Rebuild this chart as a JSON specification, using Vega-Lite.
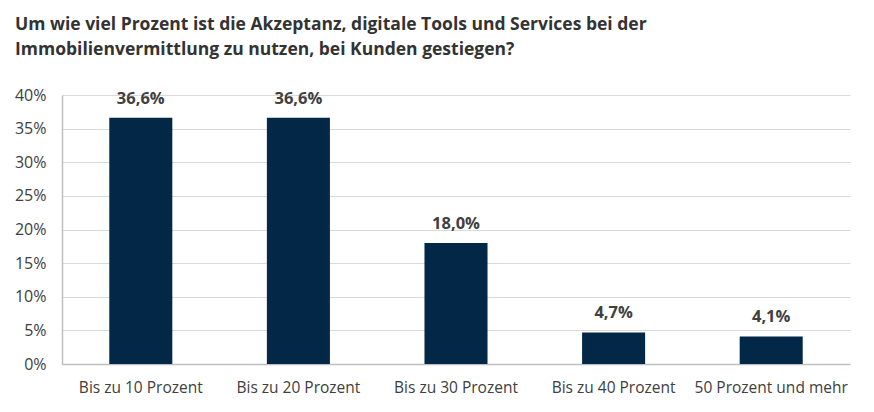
{
  "$schema": "https://vega.github.io/schema/vega-lite/v6.json",
  "width": 788,
  "height": 269,
  "autosize": "none",
  "padding": {"left": 62, "top": 95, "right": 24, "bottom": 48},
  "background": "white",
  "config": {
    "locale": {"number": {"decimal": ",", "thousands": ".", "grouping": [3], "currency": ["", " €"]}},
    "view": {"stroke": null},
    "font": "Open Sans"
  },
  "title": {
    "text": ["Um wie viel Prozent ist die Akzeptanz, digitale Tools und Services bei der", "Immobilienvermittlung zu nutzen, bei Kunden gestiegen?"],
    "anchor": "start",
    "frame": "group",
    "dx": -47,
    "offset": 29,
    "font": "Open Sans",
    "fontSize": 17.5,
    "fontWeight": "bold",
    "color": "#333333",
    "lineHeight": 25
  },
  "data": {
    "values": [
      {"kategorie": "Bis zu 10 Prozent", "anteil": 0.366},
      {"kategorie": "Bis zu 20 Prozent", "anteil": 0.366},
      {"kategorie": "Bis zu 30 Prozent", "anteil": 0.18},
      {"kategorie": "Bis zu 40 Prozent", "anteil": 0.047},
      {"kategorie": "50 Prozent und mehr", "anteil": 0.041}
    ]
  },
  "encoding": {
    "x": {
      "field": "kategorie",
      "type": "nominal",
      "sort": null,
      "scale": {"paddingInner": 0.6, "paddingOuter": 0.3},
      "axis": {
        "title": null,
        "labelAngle": 0,
        "labelFontSize": 15.5,
        "labelColor": "#404040",
        "labelPadding": 16,
        "ticks": false,
        "domainColor": "#bfbfbf",
        "domainWidth": 1.5
      }
    },
    "y": {
      "field": "anteil",
      "type": "quantitative",
      "scale": {"domain": [0, 0.4]},
      "axis": {
        "title": null,
        "format": ".0%",
        "values": [0, 0.05, 0.1, 0.15, 0.2, 0.25, 0.3, 0.35, 0.4],
        "labelFontSize": 16,
        "labelColor": "#404040",
        "labelPadding": 16,
        "ticks": false,
        "domainColor": "#bfbfbf",
        "domainWidth": 1.5,
        "gridColor": "#d9d9d9",
        "gridWidth": 1
      }
    }
  },
  "layer": [
    {"mark": {"type": "bar", "color": "#022747"}},
    {
      "mark": {"type": "text", "baseline": "alphabetic", "dy": -14, "fontSize": 16.5, "fontWeight": "bold", "color": "#404040"},
      "encoding": {"text": {"field": "anteil", "type": "quantitative", "format": ".1%"}}
    }
  ]
}
